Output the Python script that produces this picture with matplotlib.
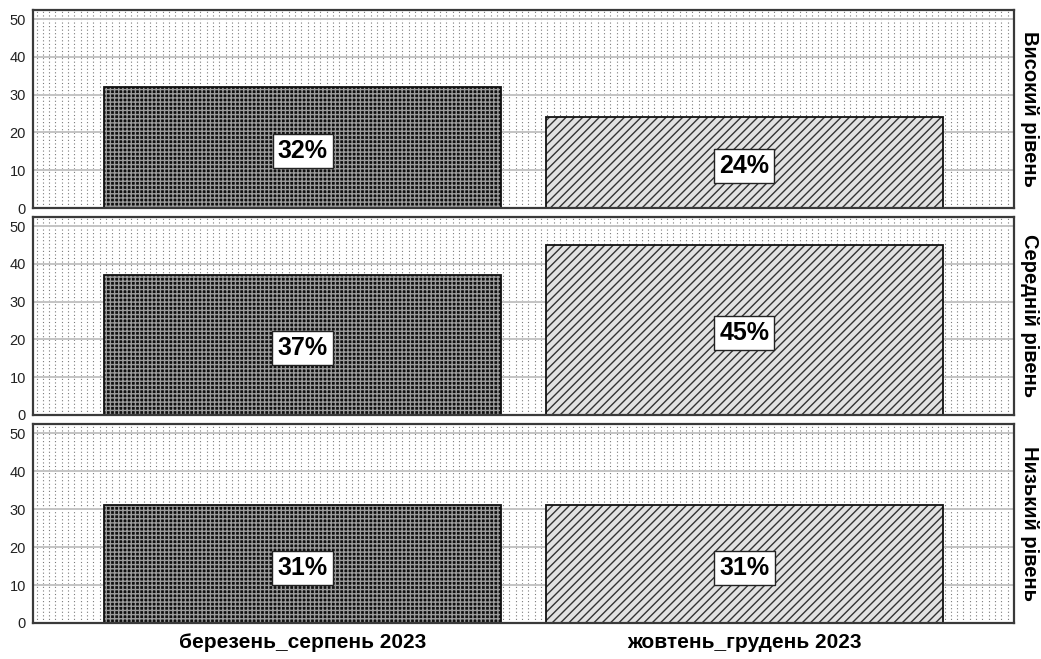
import matplotlib
matplotlib.use("Agg")
import matplotlib.pyplot as plt
import numpy as np

plt.rcParams["font.family"] = ["Liberation Sans", "DejaVu Sans"]
plt.rcParams["hatch.linewidth"] = 1.0

# ── Data ──────────────────────────────────────────────────────────────────────
periods = ["березень_серпень 2023", "жовтень_грудень 2023"]
levels = ["Високий рівень", "Середній рівень", "Низький рівень"]
march_aug = [32, 37, 31]
oct_dec = [24, 45, 31]

W, H = 1041, 659
fig = plt.figure(figsize=(W / 100, H / 100), dpi=100)
fig.patch.set_facecolor("white")

panel_px = [(10, 208), (217, 415), (424, 623)]
left, right = 33, 1014
x = np.arange(len(periods))

for i, (top, bot) in enumerate(panel_px):
    ax = fig.add_axes([left / W, 1 - bot / H, (right - left) / W, (bot - top) / H])
    ax.set_xlim(-0.61, 1.61)
    ax.set_ylim(0, 52.4)

    # dotted background
    for xv in np.arange(-0.61, 1.61, 6.3 / 441.5):
        ax.axvline(xv + 0.008, color="#7a7a7a", lw=0.8, ls=(0, (1, 2.2)), zorder=0)
    for yv in range(10, 60, 10):
        ax.axhline(yv, color="#c4c4c4", lw=1.4, zorder=0.5)

    vals = [march_aug[i], oct_dec[i]]
    # bar 1: dark checker
    ax.bar(x[0], vals[0], width=0.9, color="#101010", edgecolor="#9c9c9c",
           hatch="++++", linewidth=0, zorder=2)
    # bar 2: light with diagonal lines
    ax.bar(x[1], vals[1], width=0.9, color="#e2e2e2", edgecolor="#333333",
           hatch="////", linewidth=0, zorder=2)
    ax.bar(x, vals, width=0.9, fill=False, edgecolor="#111111", linewidth=1.3, zorder=3)

    for xi, v in zip(x, vals):
        ax.text(xi, v / 2 - 0.9, f"{v}%", ha="center", va="center",
                fontsize=18, fontweight="bold", zorder=5,
                bbox=dict(boxstyle="square,pad=0.2", facecolor="white",
                          edgecolor="#222222", linewidth=1))

    ax.set_yticks(range(0, 60, 10))
    ax.tick_params(axis="y", labelsize=10.5, length=0, pad=5, labelcolor="#222222")
    ax.set_xticks(x)
    if i == 2:
        ax.set_xticklabels(periods, fontsize=15, fontweight="bold")
        ax.tick_params(axis="x", length=0, pad=7)
    else:
        ax.set_xticklabels([])
        ax.tick_params(axis="x", length=0)
    for s in ax.spines.values():
        s.set_color("#3a3a3a")
        s.set_linewidth(1.6)
        s.set_zorder(6)

    ax.text(1.0 + 16 / (right - left), 0.5, levels[i], transform=ax.transAxes,
            rotation=-90, ha="center", va="center", fontsize=14.5,
            fontweight="bold")

fig.savefig("out.png", dpi=100, facecolor="white")
